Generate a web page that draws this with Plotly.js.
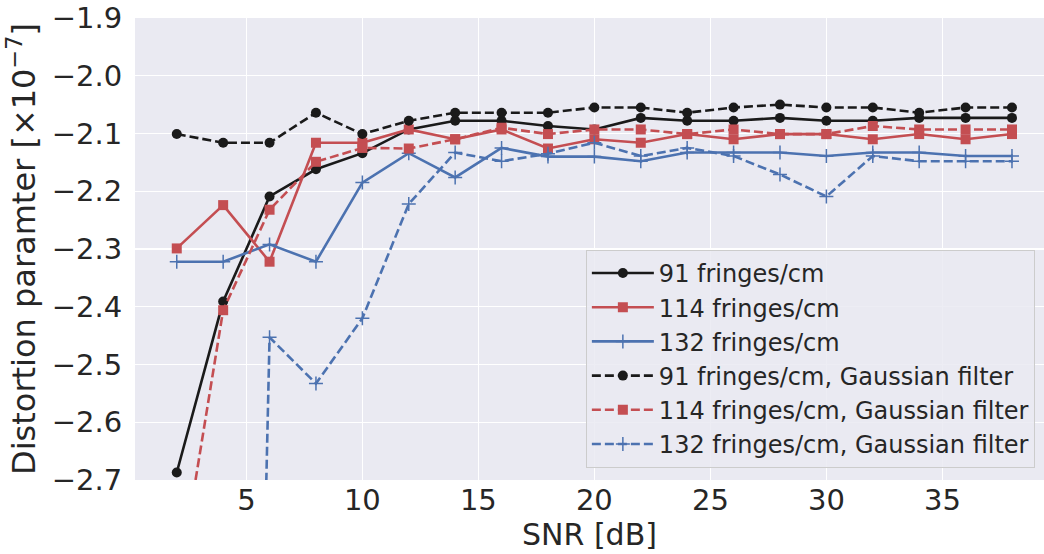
<!DOCTYPE html>
<html>
<head>
<meta charset="utf-8">
<script src="https://cdn.plot.ly/plotly-3.0.1.min.js"></script>
<style>html,body{margin:0;padding:0;background:#fff;}#chart{width:1044px;height:554px;}</style>
</head>
<body>
<div id="chart"></div>
<script>
const snr = [2,4,6,8,10,12,14,16,18,20,22,24,26,28,30,32,34,36,38];

const f91 = [-2.687,-2.391,-2.209,-2.162,-2.134,-2.093,-2.078,-2.078,-2.087,-2.093,-2.073,-2.078,-2.078,-2.073,-2.078,-2.078,-2.073,-2.073,-2.073];
const f114 = [-2.299,-2.224,-2.322,-2.116,-2.116,-2.093,-2.110,-2.093,-2.126,-2.110,-2.116,-2.101,-2.110,-2.101,-2.101,-2.110,-2.101,-2.110,-2.101];
const f132 = [-2.322,-2.322,-2.292,-2.322,-2.185,-2.134,-2.176,-2.125,-2.140,-2.140,-2.148,-2.133,-2.133,-2.133,-2.139,-2.133,-2.133,-2.139,-2.139];
const f91g = [-2.101,-2.116,-2.116,-2.064,-2.101,-2.078,-2.064,-2.064,-2.064,-2.055,-2.055,-2.064,-2.055,-2.050,-2.055,-2.055,-2.064,-2.055,-2.055];
const f114g = [-2.90,-2.406,-2.232,-2.149,-2.125,-2.126,-2.110,-2.090,-2.101,-2.093,-2.093,-2.101,-2.093,-2.101,-2.101,-2.087,-2.093,-2.093,-2.093];
const f132g = [-6.5,-6.0,-2.453,-2.533,-2.420,-2.222,-2.133,-2.148,-2.135,-2.116,-2.139,-2.125,-2.139,-2.171,-2.209,-2.139,-2.148,-2.148,-2.148];

const names = ["91 fringes/cm","114 fringes/cm","132 fringes/cm",
  "91 fringes/cm, Gaussian filter","114 fringes/cm, Gaussian filter","132 fringes/cm, Gaussian filter"];
const xTicks = [5,10,15,20,25,30,35];
const yTicks = [-2.7,-2.6,-2.5,-2.4,-2.3,-2.2,-2.1,-2.0,-1.9];

const black = "#1a1a1a", red = "#c44e52", blue = "#4c72b0";
function tr(y, name, color, dash, sym) {
  const m = {color: color, size: 10, symbol: sym};
  if (sym === "cross-thin") m.line = {color: color, width: 1.5};
  return {x: snr, y: y, name: name, type: "scatter", mode: "lines+markers",
    line: {color: color, width: 2.6, dash: dash}, marker: m, cliponaxis: true};
}
const dash = "9px,4px";
const data = [
  tr(f91, names[0], black, "solid", "circle"),
  tr(f114, names[1], red, "solid", "square"),
  tr(f132, names[2], blue, "solid", "cross-thin"),
  tr(f91g, names[3], black, dash, "circle"),
  tr(f114g, names[4], red, dash, "square"),
  tr(f132g, names[5], blue, dash, "cross-thin")
];

const txt = "#262626";
const layout = {
  width: 1044, height: 554,
  margin: {l: 135, r: 0, t: 18, b: 74},
  paper_bgcolor: "#ffffff", plot_bgcolor: "#eaeaf2",
  font: {family: "DejaVu Sans", color: txt},
  showlegend: true,
  xaxis: {
    range: [0.2, 39.38], tickvals: xTicks, ticktext: xTicks.map(String),
    showgrid: true, gridcolor: "#ffffff", gridwidth: 1.3, zeroline: false, showline: false,
    ticks: "", tickfont: {size: 29, color: txt},
    title: {text: "SNR [dB]", font: {size: 30, color: txt}, standoff: 6}
  },
  yaxis: {
    range: [-2.7, -1.9], tickvals: yTicks,
    ticktext: yTicks.map(v => "\u2212" + Math.abs(v).toFixed(1)),
    showgrid: true, gridcolor: "#ffffff", gridwidth: 1.3, zeroline: false, showline: false,
    ticks: "outside", ticklen: 6, tickcolor: "rgba(0,0,0,0)",
    tickfont: {size: 29, color: txt},
    title: {text: "Distortion paramter [\u00d710<sup>\u22127</sup>]", font: {size: 32, color: txt}, standoff: 6}
  },
  legend: {
    x: 0.496, y: 0.498, xanchor: "left", yanchor: "top",
    bgcolor: "rgba(234,234,242,0.85)", bordercolor: "#cccccc", borderwidth: 1,
    font: {size: 24, color: txt}, itemwidth: 62
  }
};
Plotly.newPlot("chart", data, layout, {displayModeBar: false, staticPlot: true});
</script>
</body>
</html>
